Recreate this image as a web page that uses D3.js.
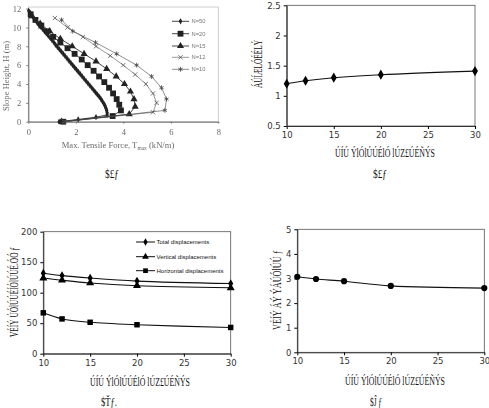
<!DOCTYPE html>
<html>
<head>
<meta charset="utf-8">
<script src="https://cdn.jsdelivr.net/npm/d3@7"></script>
<style>
  body { margin: 0; background: #fff; }
  svg { display: block; }
</style>
</head>
<body>
<script>
// ---- panel (a): tensile force profiles ----
const curveNames = ["N=50", "N=20", "N=15", "N=12", "N=10"];

const heightN50 = [11.76, 11.52, 11.28, 11.04, 10.8, 10.56, 10.32, 10.08, 9.84, 9.6,
  9.36, 9.12, 8.88, 8.64, 8.4, 8.16, 7.92, 7.68, 7.44, 7.2, 6.96, 6.72, 6.48, 6.24, 6.0,
  5.76, 5.52, 5.28, 5.04, 4.8, 4.56, 4.32, 4.08, 3.84, 3.6, 3.36, 3.12, 2.88, 2.64, 2.4,
  2.16, 1.92, 1.68, 1.44, 1.2, 0.96, 0.72, 0.48, 0.24, 0];
const forceN50 = [0.02, 0.09, 0.15, 0.22, 0.29, 0.36, 0.44, 0.52, 0.6, 0.68,
  0.76, 0.84, 0.92, 1.0, 1.08, 1.15, 1.23, 1.31, 1.39, 1.47, 1.55, 1.63, 1.71, 1.79, 1.87,
  1.95, 2.03, 2.11, 2.19, 2.27, 2.35, 2.43, 2.51, 2.59, 2.67, 2.75, 2.83, 2.91, 2.99, 3.06,
  3.12, 3.18, 3.23, 3.27, 3.3, 3.32, 3.32, 2.85, 2.1, 1.3];

const heightN20 = [11.4, 10.8, 10.2, 9.6, 9.0, 8.4, 7.8, 7.2, 6.6, 6.0, 5.4, 4.8, 4.2, 3.6, 3.0, 2.4, 1.8, 1.2, 0.6, 0];
const forceN20 = [0.1, 0.3, 0.55, 0.8, 1.05, 1.35, 1.65, 1.95, 2.25, 2.5, 2.75, 2.98, 3.2, 3.4, 3.57, 3.72, 3.83, 3.9, 3.55, 1.47];

const heightN15 = [11.2, 10.4, 9.6, 8.8, 8.0, 7.2, 6.4, 5.6, 4.8, 4.0, 3.2, 2.4, 1.6, 0.8, 0];
const forceN15 = [0.15, 0.5, 0.9, 1.35, 1.85, 2.35, 2.85, 3.3, 3.7, 4.05, 4.3, 4.45, 4.5, 4.25, 1.4];

const heightN12 = [11, 10, 9, 8, 7, 6, 5, 4, 3, 2, 1, 0];
const forceN12 = [1.12, 1.65, 2.3, 2.85, 3.45, 4.0, 4.5, 4.95, 5.25, 5.4, 5.25, 1.5];

const heightN10 = [10.8, 9.6, 8.4, 7.2, 6.0, 4.8, 3.6, 2.4, 1.2, 0];
const forceN10 = [1.4, 1.87, 2.83, 3.72, 4.56, 5.19, 5.61, 5.82, 5.75, 1.5];

const forceTicks = [0, 2, 4, 6, 8];
const heightTicks = [0, 2, 4, 6, 8, 10, 12];

// ---- panels (b)-(d) ----
const layerCounts = [10, 12, 15, 20, 30];
const safetyFactor = [1.2, 1.25, 1.3, 1.35, 1.41];
const totalDisp = [132, 128, 124, 119, 115];
const verticalDisp = [124, 120.5, 116, 111.5, 108];
const horizontalDisp = [67, 57, 51.5, 47.5, 43];
const panelDValues = [3.07, 2.98, 2.89, 2.7, 2.61];
const dispLegend = ["Total displacements", "Vertical displacements", "Horizontal displacements"];

const layerTicks = [10, 15, 20, 25, 30];
const sfTicks = [0.5, 1, 1.5, 2, 2.5];
const dispTicks = [0, 50, 100, 150, 200];
const dTicks = [0, 1, 2, 3, 4, 5];

// text as it shows in the picture (broken font glyphs)
const xTitleText = "ÚÍÚ ÝlÓlÚÚÉlÓ lÚZ£ÚÉÑÝS";
const sfTitleText = "ÁÚÍÆLÓÉÉLÝ";
const dispTitleText = "VÉÍÝ ÚÓlÚÚÉÍÓlÚÚÉ.ÓÓ ƒ";
const dTitleText = "VÉÍÝ ÁÝ ÝÁÚÓlÚÚ ƒ";
const figLabels = ["$£ƒ", "$£ƒ", "$Ťƒ.", "$Ĵ ƒ"];

const svg = d3.select("body").append("svg").attr("width", 489).attr("height", 408);

svg.append("defs").append("filter").attr("id", "scan")
  .append("feGaussianBlur").attr("stdDeviation", 0.45);

// ================= panel (a) =================
const ga = svg.append("g").attr("filter", "url(#scan)");
const xa = d3.scaleLinear().domain([0, 8]).range([28.3, 218.3]);
const ya = d3.scaleLinear().domain([0, 12]).range([121.7, 8.6]);

ga.append("rect")
  .attr("x", xa(0)).attr("y", 7)
  .attr("width", xa(8) - xa(0)).attr("height", ya(0) - 7)
  .attr("fill", "none").attr("stroke", "#c4c4c4").attr("stroke-width", 0.8);

ga.append("g").attr("transform", "translate(0," + ya(0) + ")")
  .call(d3.axisBottom(xa).tickValues(forceTicks).tickSize(2).tickPadding(5).tickSizeOuter(0))
  .call((g) => g.select(".domain").attr("stroke", "#666"))
  .call((g) => g.selectAll("line").attr("stroke", "#777"))
  .call((g) => g.selectAll("text").attr("fill", "#6a6a6a").attr("font-size", 8.5).attr("font-family", "Liberation Serif"));

ga.append("g").attr("transform", "translate(" + xa(0) + ",0)")
  .call(d3.axisLeft(ya).tickValues(heightTicks).tickSize(2).tickPadding(5).tickSizeOuter(0))
  .call((g) => g.select(".domain").attr("stroke", "#666"))
  .call((g) => g.selectAll("line").attr("stroke", "#777"))
  .call((g) => g.selectAll("text").attr("fill", "#6a6a6a").attr("font-size", 8.5).attr("font-family", "Liberation Serif"));

const tmaxTitle = ga.append("text")
  .attr("x", 118).attr("y", 148)
  .attr("text-anchor", "middle")
  .attr("font-family", "Liberation Serif").attr("font-size", 8.6).attr("fill", "#6a6a6a");
tmaxTitle.append("tspan").text("Max. Tensile Force, T");
tmaxTitle.append("tspan").attr("font-size", 5.5).attr("dy", 2).text("max");
tmaxTitle.append("tspan").attr("dy", -2).text(" (kN/m)");

ga.append("text")
  .attr("transform", "translate(9,76) rotate(-90)")
  .attr("text-anchor", "middle")
  .attr("font-family", "Liberation Serif").attr("font-size", 8.6).attr("fill", "#6a6a6a")
  .text("Slope Height, H (m)");

const profiles = [
  { name: curveNames[0], h: heightN50, t: forceN50, sym: d3.symbolDiamond, size: 11, fill: "#222", stroke: "#333", lw: 0.9 },
  { name: curveNames[1], h: heightN20, t: forceN20, sym: d3.symbolSquare, size: 34, fill: "#222", stroke: "#333", lw: 0.9 },
  { name: curveNames[2], h: heightN15, t: forceN15, sym: d3.symbolTriangle, size: 22, fill: "#222", stroke: "#333", lw: 0.9 },
  { name: curveNames[3], h: heightN12, t: forceN12, sym: d3.symbolX, size: 14, fill: "none", stroke: "#555", lw: 0.6 },
  { name: curveNames[4], h: heightN10, t: forceN10, sym: d3.symbolAsterisk, size: 16, fill: "none", stroke: "#444", lw: 0.6 },
];

const profileLine = d3.line().x((d) => xa(d[0])).y((d) => ya(d[1]));

profiles.forEach(function (p) {
  const pts = p.h.map((h, i) => [p.t[i], h]);
  ga.append("path")
    .attr("d", profileLine(pts))
    .attr("fill", "none").attr("stroke", p.stroke).attr("stroke-width", p.lw);
  ga.selectAll(null).data(pts).enter().append("path")
    .attr("transform", (d) => "translate(" + xa(d[0]) + "," + ya(d[1]) + ")")
    .attr("d", d3.symbol().type(p.sym).size(p.size))
    .attr("fill", p.fill)
    .attr("stroke", p.fill === "none" ? p.stroke : "none")
    .attr("stroke-width", 0.8);
});

const legA = ga.append("g");
const legAY = [21.3, 33.7, 46, 57.3, 69.3];
profiles.forEach(function (p, i) {
  legA.append("line")
    .attr("x1", 172).attr("x2", 189).attr("y1", legAY[i]).attr("y2", legAY[i])
    .attr("stroke", p.stroke).attr("stroke-width", p.lw);
  legA.append("path")
    .attr("transform", "translate(180.5," + legAY[i] + ")")
    .attr("d", d3.symbol().type(p.sym).size(p.size))
    .attr("fill", p.fill)
    .attr("stroke", p.fill === "none" ? p.stroke : "none")
    .attr("stroke-width", 0.8);
  legA.append("text")
    .attr("x", 191.5).attr("y", legAY[i] + 2)
    .attr("font-family", "Liberation Sans").attr("font-size", 5.8).attr("fill", "#777")
    .text(p.name);
});

// ================= panels (b)-(d) =================
// squeeze the broken-glyph strings to the width they take in the picture
function garbled(g, text, x, y, len, rotate) {
  const t = g.append("text")
    .attr("text-anchor", "middle")
    .attr("dominant-baseline", "middle")
    .attr("font-family", "Liberation Serif")
    .attr("font-size", 13.5)
    .attr("fill", "#111")
    .text(text);
  const natural = t.node().getComputedTextLength() || len;
  const sx = len / natural;
  t.attr("transform", "translate(" + x + "," + y + ")" + (rotate ? " rotate(-90)" : "") + " scale(" + sx + ",1)");
}

function linePanel(cfg) {
  const g = svg.append("g");
  const x = d3.scaleLinear().domain([10, 30]).range([cfg.left, cfg.right]);
  const y = d3.scaleLinear().domain([cfg.yTicks[0], cfg.yTicks[cfg.yTicks.length - 1]]).range([cfg.bottom, cfg.top]);

  g.append("rect")
    .attr("x", cfg.left).attr("y", cfg.top)
    .attr("width", cfg.right - cfg.left).attr("height", cfg.bottom - cfg.top)
    .attr("fill", "none").attr("stroke", "#555").attr("stroke-width", 0.8);

  g.append("g").attr("transform", "translate(0," + cfg.bottom + ")")
    .call(d3.axisBottom(x).tickValues(layerTicks).tickSize(3).tickPadding(3).tickSizeOuter(0))
    .call((a) => a.select(".domain").attr("stroke", "#333"))
    .call((a) => a.selectAll("text").attr("fill", "#333").attr("font-size", 8.5).attr("font-family", "DejaVu Sans"));

  g.append("g").attr("transform", "translate(" + cfg.left + ",0)")
    .call(d3.axisLeft(y).tickValues(cfg.yTicks).tickFormat((d) => d).tickSize(3).tickPadding(3).tickSizeOuter(0))
    .call((a) => a.select(".domain").attr("stroke", "#333"))
    .call((a) => a.selectAll("text").attr("fill", "#333").attr("font-size", 8.5).attr("font-family", "DejaVu Sans"));

  const line = d3.line().curve(d3.curveCatmullRom.alpha(0.5))
    .x((d) => x(d[0])).y((d) => y(d[1]));

  cfg.series.forEach(function (s) {
    const pts = layerCounts.map((n, i) => [n, s.values[i]]);
    g.append("path").attr("d", line(pts))
      .attr("fill", "none").attr("stroke", "#111").attr("stroke-width", 1.1);
    g.selectAll(null).data(pts).enter().append("path")
      .attr("transform", (d) => "translate(" + x(d[0]) + "," + y(d[1]) + ")")
      .attr("d", d3.symbol().type(s.sym).size(s.size))
      .attr("fill", "#000");
  });

  garbled(g, xTitleText, cfg.xTitle[0], cfg.xTitle[1], 100, false);
  garbled(g, cfg.yTitle, cfg.yTitlePos[0], cfg.yTitlePos[1], cfg.yTitleLen, true);
  garbled(g, cfg.figLabel, cfg.fig[0], cfg.fig[1], cfg.figLen, false);
  return { g: g, x: x, y: y };
}

// (b)
linePanel({
  left: 286.7, right: 475, top: 5.3, bottom: 126,
  yTicks: sfTicks,
  series: [{ values: safetyFactor, sym: d3.symbolDiamond, size: 30 }],
  xTitle: [385, 154], yTitle: sfTitleText, yTitlePos: [259, 64], yTitleLen: 48,
  fig: [380, 175], figLabel: figLabels[1], figLen: 14,
});

// (c)
const pc = linePanel({
  left: 43.3, right: 230.7, top: 231.7, bottom: 353.7,
  yTicks: dispTicks,
  series: [
    { values: totalDisp, sym: d3.symbolDiamond, size: 22 },
    { values: verticalDisp, sym: d3.symbolTriangle, size: 28 },
    { values: horizontalDisp, sym: d3.symbolSquare, size: 30 },
  ],
  xTitle: [140, 382.5], yTitle: dispTitleText, yTitlePos: [15, 292], yTitleLen: 90,
  fig: [109, 403], figLen: 16, figLabel: figLabels[2],
});

const legSyms = [d3.symbolDiamond, d3.symbolTriangle, d3.symbolSquare];
const legSizes = [16, 20, 22];
const legCY = [242, 256.7, 270.7];
dispLegend.forEach(function (name, i) {
  pc.g.append("line")
    .attr("x1", 136).attr("x2", 155).attr("y1", legCY[i]).attr("y2", legCY[i])
    .attr("stroke", "#111").attr("stroke-width", 1);
  pc.g.append("path")
    .attr("transform", "translate(145.5," + legCY[i] + ")")
    .attr("d", d3.symbol().type(legSyms[i]).size(legSizes[i]))
    .attr("fill", "#000");
  pc.g.append("text")
    .attr("x", 156.5).attr("y", legCY[i] + 2)
    .attr("font-family", "Liberation Sans").attr("font-size", 6).attr("fill", "#111")
    .text(name);
});

// (d)
linePanel({
  left: 297.3, right: 484.3, top: 229.3, bottom: 352.3,
  yTicks: dTicks,
  series: [{ values: panelDValues, sym: d3.symbolCircle, size: 30 }],
  xTitle: [395, 382], yTitle: dTitleText, yTitlePos: [278, 290], yTitleLen: 80,
  fig: [376, 403], figLabel: figLabels[3], figLen: 12,
});

// (a) caption under the scan
garbled(svg, figLabels[0], 112, 175, 14, false);
</script>
</body>
</html>
